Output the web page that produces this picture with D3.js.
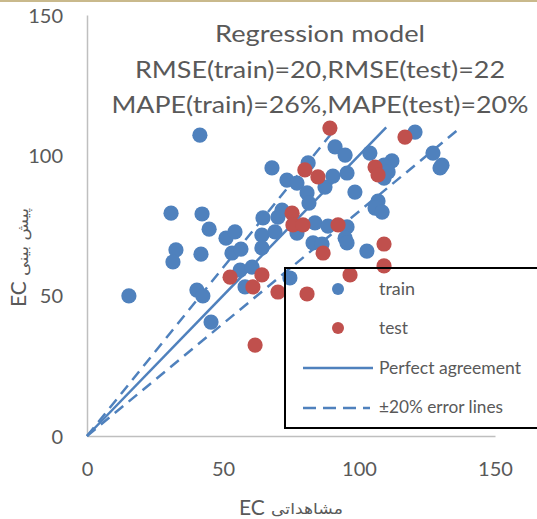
<!DOCTYPE html>
<html><head><meta charset="utf-8">
<script src="https://cdn.jsdelivr.net/npm/d3@7"></script>
<style>html,body{margin:0;padding:0;background:#fff;}svg{display:block;}</style>
</head><body>
<script>
const trainX = [41.5,30.9,42.3,44.9,32.7,31.6,41.9,15.4,40.4,42.6,45.6,51.1,54.4,53.3,56.6,56.3,60.7,58.1,64.7,64.3,64.3,70.2,69.1,68.0,73.5,77.2,81.3,80.9,81.6,71.7,77.2,74.6,83.8,88.6,83.1,86.4,87.5,90.4,95.6,91.2,94.9,104.0,112.1,109.2,110.7,109.2,120.6,127.2,130.5,129.8,98.5,107.0,105.9,108.5,95.6,94.9,95.6,102.9];
const trainY = [107.2,79.4,79.1,73.7,66.3,62.0,64.8,49.9,52.0,49.9,40.6,70.5,72.7,65.2,66.6,59.1,60.2,53.1,77.7,71.6,67.0,78.0,72.7,95.5,91.2,90.1,97.3,86.6,83.0,80.5,72.3,56.3,75.9,74.8,68.8,68.4,88.7,92.6,93.7,103.0,100.1,100.8,98.0,96.5,94.1,91.9,108.3,100.8,96.5,95.5,86.9,83.7,81.2,79.8,74.5,70.5,68.8,65.9];
const testX = [89.3,80.1,84.9,75.4,75.7,79.4,92.3,86.8,52.6,64.3,61.0,70.2,80.9,61.8,116.9,105.9,107.0,109.2,109.2,96.7];
const testY = [109.7,94.8,92.3,79.4,75.2,75.2,75.2,65.2,56.6,57.4,53.1,51.3,50.6,32.4,106.5,95.8,93.0,68.4,60.6,57.4];
const perfectX = [0,110], perfectY = [0,110];
const upperX = [0,91.7], upperY = [0,110];
const lowerX = [0,137.5], lowerY = [0,110];
const tickValues = [0,50,100,150];
const titleLines = ["Regression model","RMSE(train)=20,RMSE(test)=22","MAPE(train)=26%,MAPE(test)=20%"];
const legendLabels = ["train","test","Perfect agreement","±20% error lines"];

const W=537,H=519;
const blue="#4F81BD", red="#C0504D", txt="#595959";
const font="Lato, 'Open Sans', sans-serif";
const svg=d3.select("body").append("svg").attr("width",W).attr("height",H);
svg.append("line").attr("x1",0).attr("x2",W).attr("y1",1).attr("y2",1).attr("stroke","#c9b98c").attr("stroke-width",2);

const x=d3.scaleLinear().domain([0,150]).range([87,495]);
const y=d3.scaleLinear().domain([0,150]).range([436,15]);

// axes
const xAxis=svg.append("g").attr("transform","translate(0,436)").call(d3.axisBottom(x).tickValues(tickValues).tickSize(0).tickPadding(0));
xAxis.select(".domain").attr("stroke","#bfbfbf").attr("stroke-width",1.5);
xAxis.selectAll("text").attr("y",40).attr("dy",0).attr("fill",txt).style("font-family",font).style("font-size","20px");
const yAxis=svg.append("g").attr("transform","translate(87,0)").call(d3.axisLeft(y).tickValues(tickValues).tickSize(0).tickPadding(0));
yAxis.select(".domain").attr("stroke","#bfbfbf").attr("stroke-width",1.5);
yAxis.selectAll("text").attr("x",-24).attr("dy","0.35em").attr("fill",txt).style("font-family",font).style("font-size","20px");

// lines
const line=d3.line().x(d=>x(d[0])).y(d=>y(d[1]));
svg.append("path").datum(d3.zip(perfectX,perfectY)).attr("d",line).attr("stroke",blue).attr("stroke-width",2.5).attr("fill","none");
[[upperX,upperY],[lowerX,lowerY]].forEach(([xs,ys])=>{
  svg.append("path").datum(d3.zip(xs,ys)).attr("d",line).attr("stroke",blue).attr("stroke-width",2.5).attr("fill","none").attr("stroke-dasharray","11,7");
});

// points
svg.append("g").selectAll("circle").data(d3.zip(trainX,trainY)).join("circle")
  .attr("cx",d=>x(d[0])).attr("cy",d=>y(d[1])).attr("r",7.6).attr("fill",blue);
svg.append("g").selectAll("circle").data(d3.zip(testX,testY)).join("circle")
  .attr("cx",d=>x(d[0])).attr("cy",d=>y(d[1])).attr("r",7.6).attr("fill",red);

// title
const tl=[{y:42,w:210},{y:78,w:370},{y:113,w:417}];
titleLines.forEach((t,i)=>{
  svg.append("text").attr("x",320).attr("y",tl[i].y).attr("text-anchor","middle").attr("fill",txt)
   .style("font-family",font).style("font-size","24px")
   .attr("textLength",tl[i].w).attr("lengthAdjust","spacingAndGlyphs").text(t);
});

// axis titles
svg.append("text").attr("x",239).attr("y",515).attr("fill",txt).style("font-family",font).style("font-size","21px").text("EC");
svg.append("text").attr("x",271).attr("y",514).attr("fill",txt).style("font-family","'DejaVu Sans', sans-serif").style("font-size","15px")
  .attr("textLength",72).attr("lengthAdjust","spacingAndGlyphs").text("مشاهداتی");
svg.append("text").attr("transform","translate(26,307) rotate(-90)").attr("fill",txt).style("font-family",font).style("font-size","21px").text("EC");
svg.append("text").attr("transform","translate(28,276) rotate(-90)").attr("fill",txt).style("font-family","'DejaVu Sans', sans-serif").style("font-size","15px")
  .attr("textLength",68).attr("lengthAdjust","spacingAndGlyphs").text("پیش بینی");

// legend
const lg=svg.append("g");
lg.append("rect").attr("x",285).attr("y",268).attr("width",270).attr("height",160).attr("fill","none").attr("stroke","#000").attr("stroke-width",2);
lg.append("circle").attr("cx",338).attr("cy",289).attr("r",6).attr("fill",blue);
lg.append("circle").attr("cx",338).attr("cy",328).attr("r",6).attr("fill",red);
lg.append("line").attr("x1",303).attr("x2",373).attr("y1",368).attr("y2",368).attr("stroke",blue).attr("stroke-width",2.5);
lg.append("line").attr("x1",303).attr("x2",370).attr("y1",408).attr("y2",408).attr("stroke",blue).attr("stroke-width",2.5).attr("stroke-dasharray","13,7");
const lys=[295,334,374,413], lws=[36,29,142,124];
legendLabels.forEach((t,i)=>{
  lg.append("text").attr("x",379).attr("y",lys[i]).attr("fill",txt).style("font-family",font).style("font-size","17px")
    .attr("textLength",lws[i]).attr("lengthAdjust","spacingAndGlyphs").text(t);
});
</script>
</body></html>
